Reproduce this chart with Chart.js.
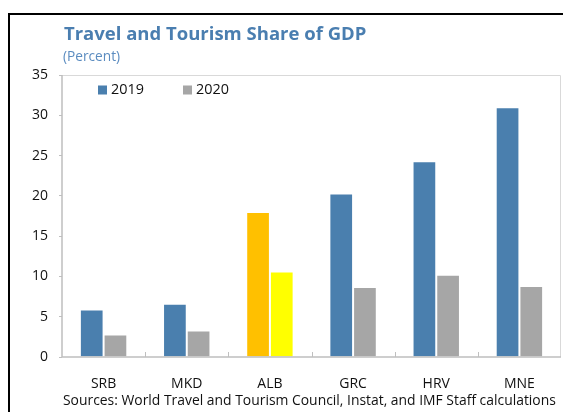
<!DOCTYPE html>
<html>
<head>
<meta charset="utf-8">
<script src="https://cdn.jsdelivr.net/npm/chart.js@4.4.1/dist/chart.umd.min.js"></script>
<style>
  html, body { margin: 0; padding: 0; background: #fff; }
  body { width: 563px; height: 412px; position: relative; overflow: hidden; font-family: "Open Sans", sans-serif; }
  #frame { position: absolute; left: 8px; top: 13px; width: 600px; height: 420px;
           border-left: 2px solid #000; border-top: 2px solid #000; }
  #chart { position: absolute; left: 0; top: 0; }
  .txt { position: absolute; white-space: nowrap; line-height: normal; }
  #title { left: 64px; top: 20px; font-size: 18.5px; font-weight: 700; color: #4a7eb0; }
  #sub { left: 63px; top: 46px; font-size: 13.7px; color: #5b8cc0; }
  #src { left: 63px; top: 390px; font-size: 13.9px; color: #111; }
</style>
</head>
<body>
<div id="frame"></div>
<canvas id="chart" width="563" height="412"></canvas>
<div class="txt" id="title">Travel and Tourism Share of GDP</div>
<div class="txt" id="sub">(Percent)</div>
<div class="txt" id="src">Sources: World Travel and Tourism Council, Instat, and IMF Staff calculations</div>

<script>
// values in percent of GDP
const countries = ["SRB", "MKD", "ALB", "GRC", "HRV", "MNE"];
const share2019 = [5.9, 6.6, 18.0, 20.3, 24.3, 31.0];
const share2020 = [2.8, 3.3, 10.6, 8.7, 10.2, 8.8];
const yTicks = [0, 5, 10, 15, 20, 25, 30, 35];

// Albania is picked out in its own colours
const focus = "ALB";
const colors2019 = countries.map(c => c === focus ? "#ffc000" : "#4a7fae");
const colors2020 = countries.map(c => c === focus ? "#ffff00" : "#a6a6a6");

const AXIS_GRAY = "#bfbfbf";

// box round the plot and the little inner ticks between groups
const plotBox = {
  id: "plotBox",
  afterDraw(chart) {
    const { ctx, chartArea: a } = chart;
    const xs = chart.scales.x;
    ctx.save();
    ctx.strokeStyle = "#d9d9d9";
    ctx.lineWidth = 1;
    ctx.beginPath();
    ctx.moveTo(a.left, a.top + 0.5);
    ctx.lineTo(a.right - 0.5, a.top + 0.5);
    ctx.lineTo(a.right - 0.5, a.bottom);
    ctx.stroke();
    ctx.strokeStyle = AXIS_GRAY;
    ctx.lineWidth = 1.5;
    ctx.beginPath();
    ctx.moveTo(a.left, a.top);
    ctx.lineTo(a.left, a.bottom);
    ctx.lineTo(a.right, a.bottom);
    ctx.stroke();
    ctx.lineWidth = 1;
    for (let i = 1; i < countries.length; i++) {
      const x = Math.round((xs.getPixelForValue(i - 1) + xs.getPixelForValue(i)) / 2) + 0.5;
      ctx.beginPath();
      ctx.moveTo(x, a.bottom);
      ctx.lineTo(x, a.bottom - 5);
      ctx.stroke();
    }
    ctx.restore();
  }
};

// legend sitting inside the plot, top left
const innerLegend = {
  id: "innerLegend",
  afterDraw(chart) {
    const { ctx, chartArea: a } = chart;
    ctx.save();
    ctx.font = "14.4px 'Open Sans'";
    ctx.textBaseline = "middle";
    let x = a.left + 36;
    const y = a.top + 15;
    chart.data.datasets.forEach(ds => {
      ctx.fillStyle = ds.backgroundColor[0];
      ctx.fillRect(x, y - 4.5, 9, 9);
      ctx.fillStyle = "#111";
      ctx.fillText(ds.label, x + 13, y);
      x += 85;
    });
    ctx.restore();
  }
};

new Chart(document.getElementById("chart"), {
  type: "bar",
  data: {
    labels: countries,
    datasets: [
      { label: "2019", data: share2019, backgroundColor: colors2019, borderColor: "rgba(255,255,255,0.35)", borderWidth: 1 },
      { label: "2020", data: share2020, backgroundColor: colors2020, borderColor: "rgba(255,255,255,0.35)", borderWidth: 1 }
    ]
  },
  options: {
    responsive: false,
    animation: false,
    layout: { padding: { left: 0, top: 75, right: 2, bottom: 0 } },
    datasets: { bar: { categoryPercentage: 0.57, barPercentage: 1.0 } },
    plugins: { legend: { display: false }, tooltip: { enabled: false } },
    scales: {
      x: {
        type: "category",
        offset: true,
        grid: { display: false },
        border: { display: false },
        ticks: {
          autoSkip: false,
          maxRotation: 0,
          padding: 11,
          color: "#111",
          font: { family: "Open Sans", size: 14 }
        },
        afterFit: s => { s.height = 55; }
      },
      y: {
        min: 0,
        max: 35,
        afterBuildTicks: s => { s.ticks = yTicks.map(v => ({ value: v })); },
        grid: { drawOnChartArea: false, drawTicks: true, tickLength: 3, color: AXIS_GRAY },
        border: { display: false },
        ticks: { padding: 11, color: "#111", font: { family: "Open Sans", size: 14 } },
        afterFit: s => { s.width = 62; }
      }
    }
  },
  plugins: [plotBox, innerLegend]
});
</script>
</body>
</html>
